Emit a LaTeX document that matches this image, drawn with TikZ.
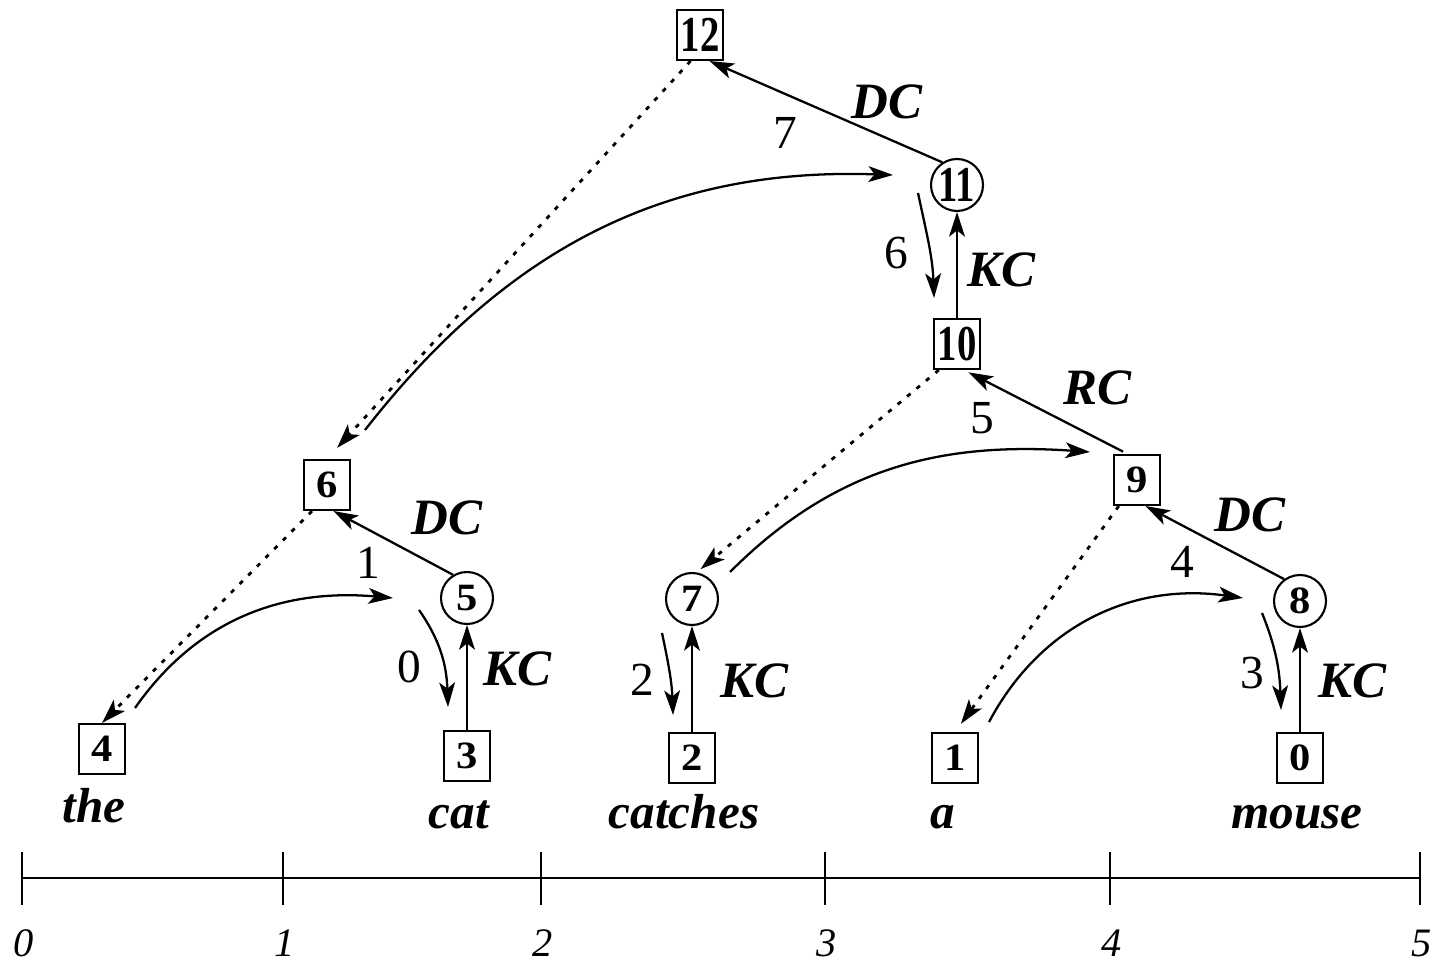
\documentclass[tikz,border=0pt]{standalone}
\usepackage{fontspec}
\setmainfont{Liberation Serif}
\usepackage{graphicx}
\usepackage{tikz}
\usetikzlibrary{arrows.meta,calc}
\newcommand{\sdig}[1]{\scalebox{1.1}[1]{#1}}
\newcommand{\ddig}[1]{\scalebox{1}[1.3]{#1}}

\begin{document}
\begin{tikzpicture}[x=0.02cm,y=0.02cm,
    box/.style={draw,line width=1.2pt,minimum width=0.92cm,minimum height=1cm,inner sep=0pt,
      font=\fontsize{22}{22}\selectfont\bfseries},
    circ/.style={draw,circle,line width=1.2pt,minimum size=1.04cm,inner sep=0pt,
      font=\fontsize{22}{22}\selectfont\bfseries},
    word/.style={anchor=base,font=\fontsize{28}{30}\selectfont\bfseries\itshape},
    lbl/.style={font=\fontsize{29}{30}\selectfont\bfseries\itshape},
    num/.style={font=\fontsize{27}{28}\selectfont},
    axlbl/.style={font=\fontsize{23}{24}\selectfont\itshape},
    flow/.style={line width=1.3pt,-{Stealth[length=14pt,width=9pt,inset=3.5pt]}},
    trace/.style={flow,line width=1.6pt,dash pattern=on 2.5pt off 4.5pt}]
  \useasboundingbox (0,0) rectangle (1435,963);
  %Draw nodes
  \node[box] (n12) at (700,928) {\ddig{12}};
  \node[circ] (n11) at (957,778) {\ddig{11}};
  \node[box] (n10) at (957,619) {\ddig{10}};
  \node[box] (n6) at (327,478) {\sdig{6}};
  \node[box] (n9) at (1137,483) {\sdig{9}};
  \node[circ] (n5) at (467,365) {\sdig{5}};
  \node[circ] (n7) at (692,364) {\sdig{7}};
  \node[circ] (n8) at (1300,362) {\sdig{8}};
  \node[box] (n4) at (102,214) {\sdig{4}};
  \node[box] (n3) at (467,207) {\sdig{3}};
  \node[box] (n2) at (692,205) {\sdig{2}};
  \node[box] (n1) at (955,205) {\sdig{1}};
  \node[box] (n0) at (1300,205) {\sdig{0}};
  %Draw words
  \node[word] (wthe) at (94,141) {the};
  \node[word] (wcat) at (459,135) {cat};
  \node[word] (wcatches) at (684,135) {catches};
  \node[word] (wa) at (943,135) {a};
  \node[word] (wmouse) at (1297,135) {mouse};
  %Draw solid arrows
  \draw[flow] (n11.123) -- (n12.-70);
  \draw[flow] (n5.121) -- (n6.-76);
  \draw[flow] (n8.126) -- (n9.-72);
  \draw[flow,shorten <=0.1cm,shorten >=0.1cm] (n9.110) -- (n10.-75);
  \draw[flow] (n3) -- (n5);
  \draw[flow] (n2) -- (n7);
  \draw[flow] (n0) -- (n8);
  \draw[flow] (n10) -- (n11);
  %Draw dotted arrows
  \draw[trace,shorten >=0.3cm] (n12.250) -- (n6.north);
  \draw[trace] (n6.240) -- (n4.north);
  \draw[trace,shorten >=0.1cm] (n10.235) -- (n7.80);
  \draw[trace,shorten >=0.2cm] (n9.235) -- (n1.north);
  %Draw curved arrows
  \coordinate (c0s) at (419,353); \coordinate (c0e) at (448,256);
  \coordinate (c2s) at (662,330); \coordinate (c2e) at (673,248);
  \coordinate (c3s) at (1262,350); \coordinate (c3e) at (1281,253);
  \coordinate (c6s) at (918,770); \coordinate (c6e) at (934,665);
  \coordinate (a1s) at (135,255); \coordinate (a1e) at (393,365);
  \coordinate (a4s) at (989,241); \coordinate (a4e) at (1243,365);
  \coordinate (a5s) at (730,391); \coordinate (a5e) at (1090,511);
  \coordinate (a7s) at (365,533); \coordinate (a7e) at (893,788);
  \draw[flow] (c0s) to[out=-55,in=92] (c0e);
  \draw[flow] (c2s) to[out=-78,in=92] (c2e);
  \draw[flow] (c3s) to[out=-68,in=92] (c3e);
  \draw[flow] (c6s) to[out=-78,in=92] (c6e);
  \draw[flow] (a1s) to[out=55,in=175] (a1e);
  \draw[flow] (a4s) to[out=62,in=172] (a4e);
  \draw[flow] (a5s) to[out=45,in=176] (a5e);
  \draw[flow] (a7s) to[out=52,in=178] (a7e);
  %Draw labels
  \node[lbl] (dc12) at (887,861) {DC};
  \node[num] (e7) at (785,830) {7};
  \node[lbl] (dc6) at (447,445) {DC};
  \node[num] (e1) at (368,400) {1};
  \node[lbl] (dc9) at (1250,448) {DC};
  \node[num] (e4) at (1182,401) {4};
  \node[lbl] (rc10) at (1097,575) {RC};
  \node[num] (e5) at (982,545) {5};
  \node[lbl] (kc5) at (517,294) {KC};
  \node[num] (e0) at (409,296) {0};
  \node[lbl] (kc7) at (754,282) {KC};
  \node[num] (e2) at (642,283) {2};
  \node[lbl] (kc8) at (1352,282) {KC};
  \node[num] (e3) at (1252,290) {3};
  \node[lbl] (kc11) at (1001,693) {KC};
  \node[num] (e6) at (896,710) {6};
  %Draw the axis
  \draw[line width=1.3pt] (22,85) -- (1420,85);
  \foreach \x/\t in {22/0,283/1,541/2,825/3,1110/4,1420/5} {
      \draw[line width=1.3pt] (\x,58) -- (\x,111);
      \node[axlbl] (t\t) at (\x+2,20) {\t};
    }
\end{tikzpicture}
\end{document}
